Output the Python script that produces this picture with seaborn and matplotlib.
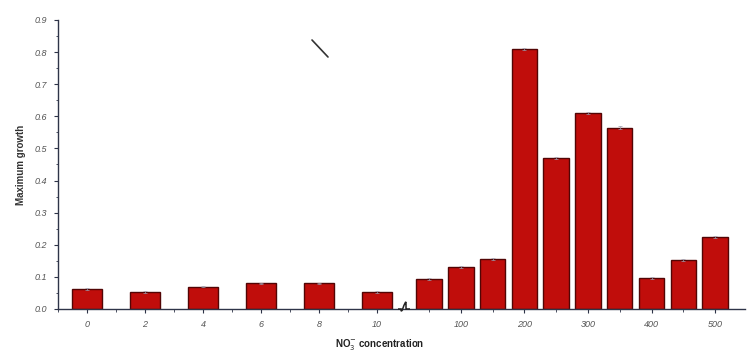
import numpy as np
import pandas as pd
import matplotlib
matplotlib.use("Agg")
import matplotlib.pyplot as plt
import seaborn as sns
from matplotlib.lines import Line2D
from matplotlib.path import Path
from matplotlib.patches import PathPatch
from matplotlib.ticker import MultipleLocator, FormatStrFormatter, FixedLocator

# ---- data ----
low_conc = [0, 2, 4, 6, 8, 10]
low_growth = [0.062, 0.053, 0.070, 0.080, 0.080, 0.053]
low_err = [0.002, 0.002, 0.002, 0.002, 0.002, 0.002]

high_conc = [50, 100, 150, 200, 250, 300, 350, 400, 450, 500]
high_growth = [0.093, 0.131, 0.156, 0.810, 0.470, 0.610, 0.565, 0.097, 0.153, 0.224]
high_err = [0.003, 0.003, 0.003, 0.004, 0.003, 0.004, 0.004, 0.004, 0.003, 0.004]

low_ticks = [0, 2, 4, 6, 8, 10]
high_ticks = [100, 200, 300, 400, 500]
y_ticks = [0.0, 0.1, 0.2, 0.3, 0.4, 0.5, 0.6, 0.7, 0.8, 0.9]

ylabel = "Maximum growth"
xlabel = "NO$_3^{-}$ concentration"

# ---- styling ----
sns.set_style("ticks")
plt.rcParams['font.family'] = ['Liberation Sans', 'DejaVu Sans']

W, H = 747, 353
fig = plt.figure(figsize=(W / 100, H / 100), dpi=100)

bar_color = "#c00d0b"
edge_color = "#520505"
spine_color = "#2e3448"
tick_color = "#555555"

left_px, split_px, right_px = 58, 402, 745
top_px, bottom_px = 20, 309
bottom = 1 - bottom_px / H
height = (bottom_px - top_px) / H

ax1 = fig.add_axes([left_px / W, bottom, (split_px - left_px) / W, height])
ax2 = fig.add_axes([split_px / W, bottom, (right_px - split_px) / W, height], sharey=ax1)

df_low = pd.DataFrame({"conc": low_conc, "growth": low_growth})
df_high = pd.DataFrame({"conc": high_conc, "growth": high_growth})

sns.barplot(data=df_low, x="conc", y="growth", native_scale=True, width=0.53,
            color=bar_color, saturation=1, edgecolor=edge_color, linewidth=1.0,
            errorbar=None, ax=ax1)
sns.barplot(data=df_high, x="conc", y="growth", native_scale=True, width=0.80,
            color=bar_color, saturation=1, edgecolor=edge_color, linewidth=1.0,
            errorbar=None, ax=ax2)

ax1.errorbar(low_conc, low_growth, yerr=low_err, fmt="none", ecolor="#9a9aaa",
             elinewidth=0.5, capsize=1.5, capthick=0.5)
ax2.errorbar(high_conc, high_growth, yerr=high_err, fmt="none", ecolor="#9a9aaa",
             elinewidth=0.5, capsize=1.5, capthick=0.5)

ax1.set_xlim(-1.0, 10.86)
ax2.set_xlim(7.5, 547)
ax1.set_ylim(0, 0.9)

# y axis
ax1.yaxis.set_major_locator(FixedLocator(y_ticks))
ax1.yaxis.set_minor_locator(MultipleLocator(0.05))
ax1.yaxis.set_major_formatter(FormatStrFormatter("%.1f"))

# x axes
ax1.xaxis.set_major_locator(FixedLocator(low_ticks))
ax1.xaxis.set_minor_locator(MultipleLocator(1))
ax1.set_xticklabels([str(t) for t in low_ticks])
ax2.xaxis.set_major_locator(FixedLocator(high_ticks))
ax2.xaxis.set_minor_locator(MultipleLocator(50))
ax2.set_xticklabels([str(t) for t in high_ticks])

for ax in (ax1, ax2):
    ax.set_xlabel("")
    ax.set_ylabel("")
    ax.spines["top"].set_visible(False)
    ax.spines["right"].set_visible(False)
    for s in ("left", "bottom"):
        ax.spines[s].set_color(spine_color)
        ax.spines[s].set_linewidth(1.0)
    ax.tick_params(axis="both", which="major", length=3, width=0.8,
                   color=spine_color, labelsize=6.5, labelcolor=tick_color, pad=5)
    ax.tick_params(axis="both", which="minor", length=1.8, width=0.6, color=spine_color)
    for lab in ax.get_xticklabels() + ax.get_yticklabels():
        lab.set_fontstyle("italic")

ax2.spines["left"].set_visible(False)
ax2.tick_params(axis="y", which="both", left=False, labelleft=False)

ax1.set_ylabel(ylabel, fontsize=7, fontweight="bold", color="#333333", labelpad=6)
fig.text(380 / W, 1 - 345 / H, xlabel, ha="center", va="center",
         fontsize=7, fontweight="bold", color="#222222")

# axis break squiggle (smooth S-curve), drawn in pixel space
verts = [(398, 309), (401, 309), (401, 314), (403, 308),
         (405, 302), (406, 302), (406, 306), (406, 309), (407, 309), (410, 309)]
codes = [Path.MOVETO, Path.LINETO, Path.CURVE3, Path.CURVE3,
         Path.CURVE3, Path.CURVE3, Path.CURVE3, Path.CURVE3, Path.LINETO, Path.LINETO]
verts_fig = [(x / W, 1 - y / H) for x, y in verts]
fig.add_artist(PathPatch(Path(verts_fig, codes), transform=fig.transFigure,
                         facecolor="none", edgecolor="#222222", linewidth=1.1))
# stray scan mark
fig.add_artist(Line2D([312 / W, 328 / W], [1 - 40 / H, 1 - 57 / H],
                      transform=fig.transFigure, color="#333333", linewidth=1.2))

fig.savefig("out.png", dpi=100)
